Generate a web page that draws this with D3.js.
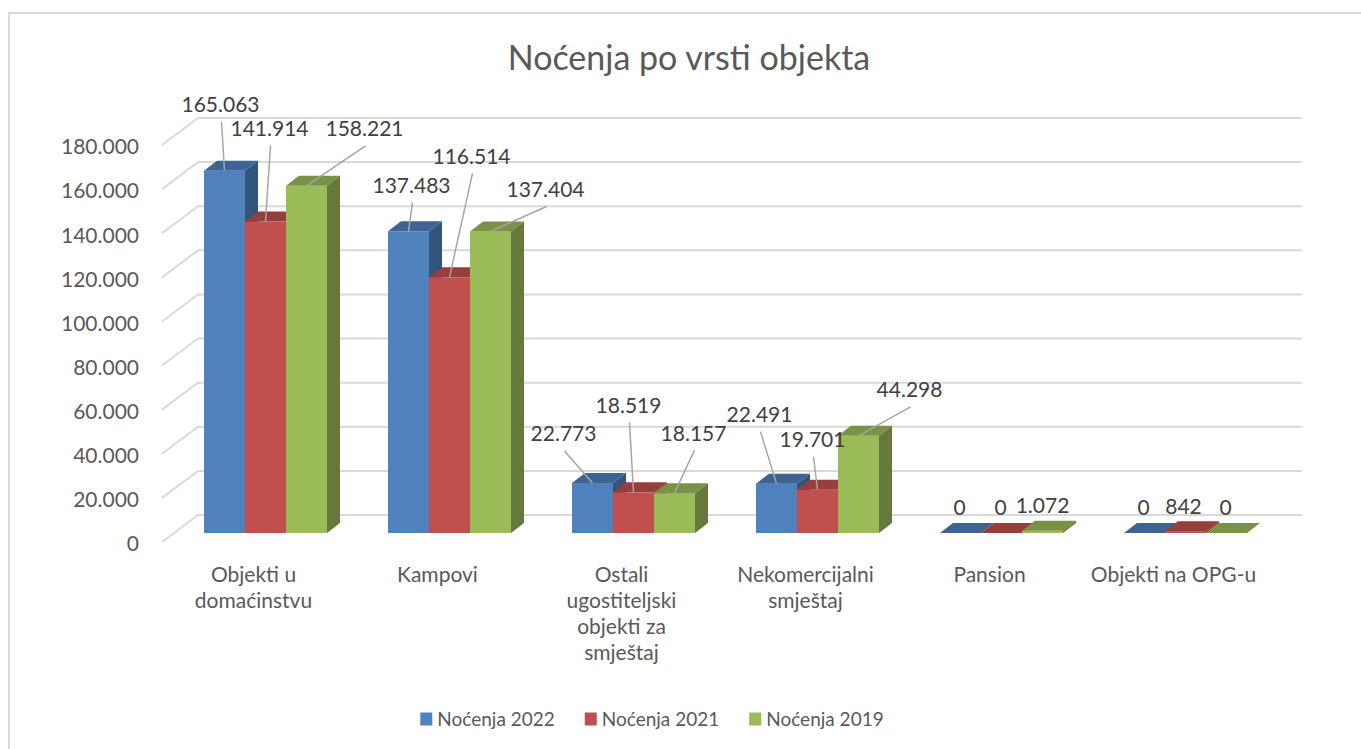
<!DOCTYPE html>
<html>
<head>
<meta charset="utf-8">
<script src="https://cdn.jsdelivr.net/npm/d3@7"></script>
<style>
  body { margin: 0; background: #fff; }
  text { font-family: Lato, "Open Sans", sans-serif; }
</style>
</head>
<body>
<svg width="1361" height="749"></svg>
<script>
// Data
const categories = [['Objekti u', 'domaćinstvu'], ['Kampovi'], ['Ostali', 'ugostiteljski', 'objekti za', 'smještaj'],
                    ['Nekomercijalni', 'smještaj'], ['Pansion'], ['Objekti na OPG-u']];
const seriesNames = ['Noćenja 2022', 'Noćenja 2021', 'Noćenja 2019'];
const values2022 = [165063, 137483, 22773, 22491, 0, 0];
const values2021 = [141914, 116514, 18519, 19701, 0, 842];
const values2019 = [158221, 137404, 18157, 44298, 1072, 0];
const yTicks = [0, 20000, 40000, 60000, 80000, 100000, 120000, 140000, 160000, 180000];

// Manual label offsets (moved labels), [dx, dy] from top of bar
const labelOffsets = [
  [[-4, -66], [3, -46], [-29, -49], [-17, -69], [-1, -25], [-1, -25]],
  [[4, -93], [22, -121], [-5, -87], [-5, -50], [-1, -25], [-2, -25]],
  [[58, -57], [55, -42], [19, -60], [51, -46], [0, -25], [-1, -25]]
];

const colors = ['#4f81bd', '#c0504d', '#9bbb59'];
const series = [values2022, values2021, values2019];

const svg = d3.select('svg');
const fmt = d3.formatLocale({decimal: ',', thousands: '.', grouping: [3], currency: ['', '']}).format(',d');

const dx = 13, dy = -10;         // 3D depth offset of the bars
const wallX0 = 162, wallX1 = 198, wallX2 = 1302;   // front-left, back-left, back-right of the wall

// Chart border
svg.append('rect')
  .attr('x', 9).attr('y', 13)
  .attr('width', 1370).attr('height', 760)
  .attr('fill', 'none').attr('stroke', '#d9d9d9').attr('stroke-width', 2);

// Title
svg.append('text')
  .attr('x', 689).attr('y', 58)
  .attr('text-anchor', 'middle')
  .attr('dy', '0.35em')
  .attr('font-size', 34)
  .attr('fill', '#595959')
  .text('Noćenja po vrsti objekta');

// Scales
const yBack = d3.scaleLinear().domain([0, 180000]).range([515, 118]);   // back wall
const yFront = d3.scaleLinear().domain([0, 180000]).range([542, 145]);  // front edge
const yBar = d3.scaleLinear().domain([0, 180000]).range([533, 138]);    // bars front face
const x = d3.scaleBand()
  .domain(d3.range(categories.length))
  .range([173.5, 173.5 + 6 * 184])
  .paddingInner(61 / 184)
  .paddingOuter(30.5 / 184);
const bw = x.bandwidth() / 3;

// Gridlines
const grid = svg.append('g');
grid.selectAll('.gridline')
  .data(yTicks)
  .enter()
  .append('polyline')
  .attr('points', d => [[wallX0, yFront(d)], [wallX1, yBack(d)], [wallX2, yBack(d)]].join(' '))
  .attr('fill', 'none')
  .attr('stroke', '#d9d9d9')
  .attr('stroke-width', 2);

// Y tick labels
svg.append('g').selectAll('text')
  .data(yTicks)
  .enter()
  .append('text')
  .attr('x', 139)
  .attr('y', d => yFront(d) + 2)
  .attr('dy', '0.35em')
  .attr('text-anchor', 'end')
  .attr('font-size', 21)
  .attr('fill', '#595959')
  .text(fmt);

// Bars (front, top, side faces)
const bars = svg.append('g');
categories.forEach((c, ci) => {
  series.forEach((vals, si) => {
    const x0 = x(ci) + si * bw,
          yt = yBar(vals[ci]),
          yb = yBar(0),
          col = d3.rgb(colors[si]);
    const g = bars.append('g');
    g.append('rect')
      .attr('x', x0).attr('y', yt)
      .attr('width', bw).attr('height', yb - yt)
      .attr('fill', col);
    g.append('polygon')
      .attr('points', [[x0, yt], [x0 + dx, yt + dy], [x0 + bw + dx, yt + dy], [x0 + bw, yt]].join(' '))
      .attr('fill', col.darker(0.7));
    g.append('polygon')
      .attr('points', [[x0 + bw, yt], [x0 + bw + dx, yt + dy], [x0 + bw + dx, yb + dy], [x0 + bw, yb]].join(' '))
      .attr('fill', col.darker(1.2));
  });
});

// Data labels with leader lines
const labels = svg.append('g');
series.forEach((vals, si) => {
  vals.forEach((v, ci) => {
    const ax = x(ci) + si * bw + bw / 2,
          ay = yBar(v),
          lx = ax + labelOffsets[si][ci][0],
          ly = ay + labelOffsets[si][ci][1];
    if (labelOffsets[si][ci][1] < -35) {
      labels.append('line')
        .attr('x1', lx + 1).attr('y1', ly + 17)
        .attr('x2', ax).attr('y2', ay)
        .attr('stroke', '#a6a6a6')
        .attr('stroke-width', 1.5);
    }
    labels.append('text')
      .attr('x', lx).attr('y', ly)
      .attr('dy', '0.35em')
      .attr('text-anchor', 'middle')
      .attr('font-size', 21)
      .attr('fill', '#404040')
      .text(fmt(v));
  });
});

// Category labels
svg.append('g').selectAll('text')
  .data(categories)
  .enter()
  .append('text')
  .attr('text-anchor', 'middle')
  .attr('font-size', 21)
  .attr('fill', '#595959')
  .each(function(d, i) {
    d3.select(this).selectAll('tspan')
      .data(d)
      .enter()
      .append('tspan')
      .attr('x', x(i) + x.bandwidth() / 2 - 12)
      .attr('y', (t, j) => 575 + j * 26)
      .attr('dy', '0.35em')
      .text(t => t);
  });

// Legend
const legend = svg.append('g');
let lx = 0;
seriesNames.forEach((name, i) => {
  const item = legend.append('g').attr('transform', 'translate(' + lx + ',0)');
  item.append('rect')
    .attr('x', 0).attr('y', -6.5)
    .attr('width', 12).attr('height', 13)
    .attr('fill', colors[i]);
  const t = item.append('text')
    .attr('x', 17).attr('y', 0)
    .attr('dy', '0.35em')
    .attr('font-size', 19)
    .attr('fill', '#595959')
    .text(name);
  lx += 17 + t.node().getComputedTextLength() + 30;
});
const legendW = lx - 30;
legend.attr('transform', 'translate(' + (652 - legendW / 2) + ',719)');
</script>
</body>
</html>
